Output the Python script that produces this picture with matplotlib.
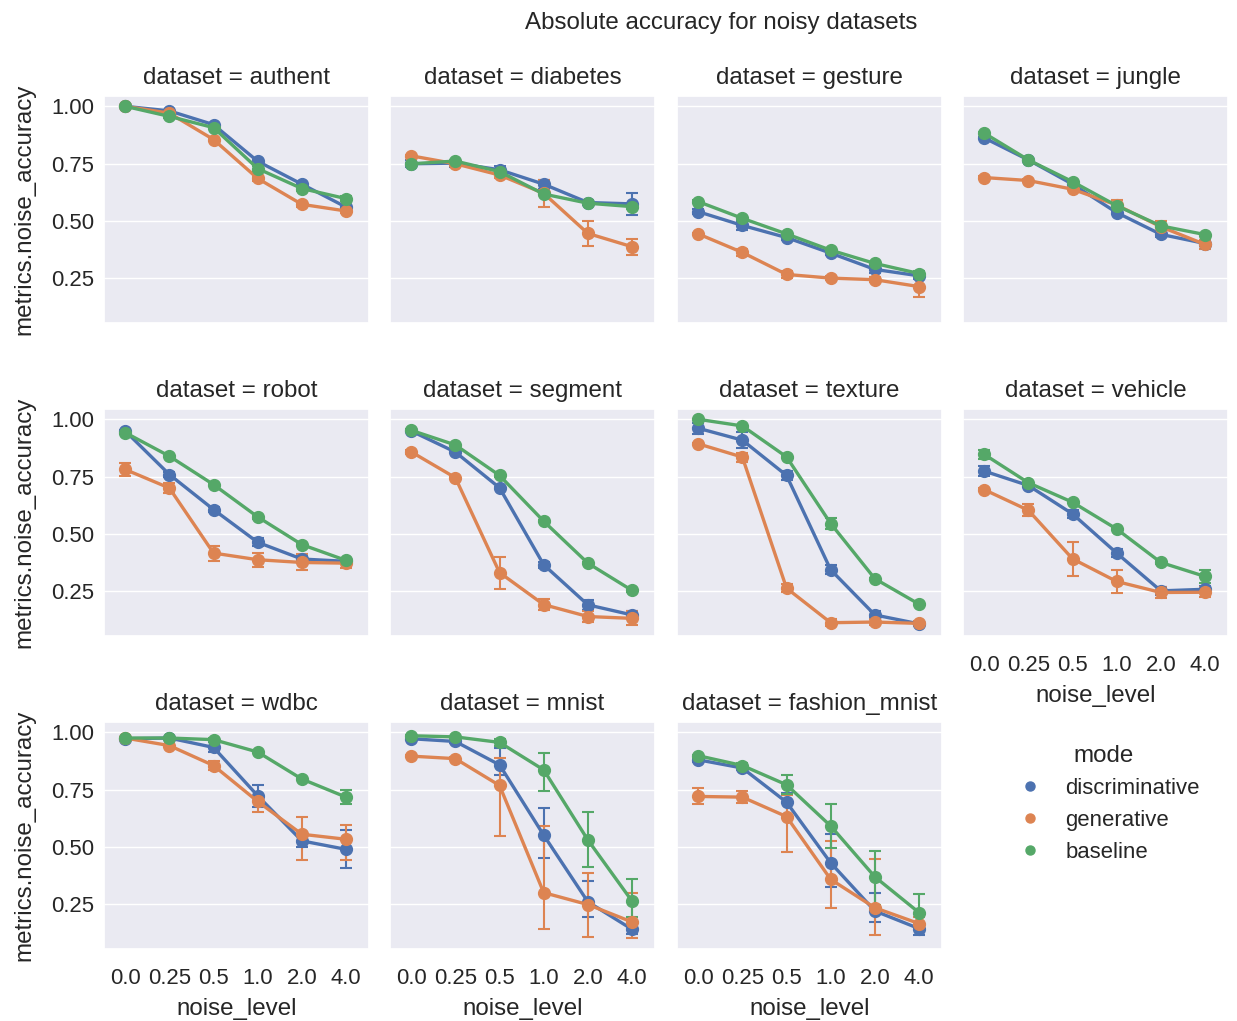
import numpy as np
import matplotlib
matplotlib.use("Agg")
import matplotlib.pyplot as plt
import seaborn as sns

sns.set_theme(style="darkgrid", font_scale=1.45)
plt.rcParams['font.family'] = ['Liberation Sans', 'DejaVu Sans']

noise_levels = ["0.0", "0.25", "0.5", "1.0", "2.0", "4.0"]
modes = ["discriminative", "generative", "baseline"]
datasets = ["authent", "diabetes", "gesture", "jungle", "robot", "segment",
            "texture", "vehicle", "wdbc", "mnist", "fashion_mnist"]

# mean accuracy per dataset, per mode (discriminative, generative, baseline)
# errors: one list = symmetric, [lower, upper] = asymmetric
authent_mean = [[1.00, 0.98, 0.92, 0.76, 0.66, 0.56],
                [1.00, 0.97, 0.855, 0.685, 0.572, 0.543],
                [1.00, 0.956, 0.907, 0.728, 0.641, 0.597]]
authent_err = [[0.0, 0.005, 0.005, 0.01, 0.01, 0.01],
               [0.0, 0.005, 0.005, 0.01, 0.01, 0.01],
               [0.0, 0.005, 0.005, 0.01, 0.01, 0.01]]

diabetes_mean = [[0.749, 0.752, 0.723, 0.66, 0.58, 0.574],
                 [0.784, 0.749, 0.70, 0.62, 0.445, 0.387],
                 [0.749, 0.761, 0.715, 0.617, 0.577, 0.562]]
diabetes_err = [[0.015, 0.015, 0.015, 0.02, 0.01, 0.047],
                [0.005, 0.01, 0.015, 0.06, 0.056, 0.035],
                [0.005, 0.005, 0.005, 0.005, 0.005, 0.01]]

gesture_mean = [[0.54, 0.48, 0.427, 0.359, 0.288, 0.26],
                [0.443, 0.362, 0.266, 0.25, 0.243, 0.213],
                [0.584, 0.511, 0.443, 0.372, 0.314, 0.27]]
gesture_err = [[0.01, 0.02, 0.01, 0.01, 0.015, 0.015],
               [0.005, 0.015, 0.017, 0.01, 0.01, 0.045],
               [0.005, 0.005, 0.005, 0.005, 0.005, 0.01]]

jungle_mean = [[0.862, 0.766, 0.66, 0.536, 0.441, 0.401],
               [0.689, 0.676, 0.638, 0.569, 0.474, 0.397],
               [0.883, 0.766, 0.671, 0.566, 0.478, 0.44]]
jungle_err = [[0.005, 0.005, 0.005, 0.005, 0.01, 0.01],
              [0.005, 0.005, 0.005, 0.022, 0.027, 0.02],
              [0.005, 0.005, 0.005, 0.005, 0.005, 0.005]]

robot_mean = [[0.949, 0.759, 0.606, 0.463, 0.39, 0.38],
              [0.781, 0.70, 0.416, 0.387, 0.375, 0.372],
              [0.942, 0.839, 0.715, 0.574, 0.453, 0.384]]
robot_err = [[0.005, 0.01, 0.01, 0.018, 0.015, 0.01],
             [0.029, 0.023, 0.033, 0.031, 0.035, 0.023],
             [0.005, 0.005, 0.005, 0.01, 0.005, 0.005]]

segment_mean = [[0.949, 0.857, 0.701, 0.365, 0.19, 0.146],
                [0.858, 0.745, 0.331, 0.191, 0.139, 0.131],
                [0.952, 0.888, 0.755, 0.555, 0.372, 0.253]]
segment_err = [[0.005, 0.005, 0.005, 0.012, 0.022, 0.017],
               [0.01, 0.005, 0.07, 0.025, 0.025, 0.03],
               [0.005, 0.005, 0.005, 0.005, 0.005, 0.005]]

texture_mean = [[0.961, 0.909, 0.755, 0.343, 0.146, 0.107],
                [0.893, 0.835, 0.263, 0.112, 0.115, 0.109],
                [1.00, 0.971, 0.836, 0.545, 0.304, 0.193]]
texture_err = [[0.025, 0.035, 0.018, 0.02, 0.015, 0.01],
               [0.005, 0.02, 0.018, 0.015, 0.015, 0.012],
               [0.003, 0.005, 0.005, 0.023, 0.005, 0.005]]

vehicle_mean = [[0.774, 0.711, 0.587, 0.416, 0.251, 0.258],
                [0.693, 0.603, 0.391, 0.292, 0.244, 0.245],
                [0.847, 0.723, 0.638, 0.521, 0.375, 0.314]]
vehicle_err = [[0.02, 0.005, 0.018, 0.018, 0.018, 0.015],
               [0.005, 0.027, 0.074, 0.052, 0.023, 0.022],
               [0.02, 0.005, 0.005, 0.005, 0.005, 0.028]]

wdbc_mean = [[0.972, 0.975, 0.934, 0.723, 0.526, 0.489],
             [0.975, 0.942, 0.855, 0.698, 0.555, 0.533],
             [0.975, 0.975, 0.968, 0.914, 0.796, 0.717]]
wdbc_err = [[[0.005, 0.005, 0.02, 0.047, 0.025, 0.08],
             [0.005, 0.005, 0.025, 0.045, 0.03, 0.085]],
            [[0.005, 0.005, 0.02, 0.047, 0.113, 0.091],
             [0.005, 0.005, 0.02, 0.022, 0.074, 0.063]],
            [0.005, 0.005, 0.005, 0.005, 0.005, 0.03]]

mnist_mean = [[0.972, 0.96, 0.858, 0.551, 0.26, 0.14],
              [0.896, 0.885, 0.768, 0.30, 0.248, 0.172],
              [0.985, 0.98, 0.956, 0.836, 0.53, 0.263]]
mnist_err = [[[0.005, 0.005, 0.045, 0.10, 0.065, 0.02],
              [0.005, 0.005, 0.072, 0.12, 0.09, 0.02]],
             [[0.005, 0.008, 0.221, 0.16, 0.143, 0.07],
              [0.005, 0.008, 0.122, 0.29, 0.139, 0.128]],
             [[0.005, 0.005, 0.015, 0.094, 0.12, 0.069],
              [0.005, 0.005, 0.015, 0.074, 0.12, 0.097]]]

fashion_mnist_mean = [[0.88, 0.844, 0.695, 0.43, 0.22, 0.143],
                      [0.72, 0.717, 0.632, 0.358, 0.234, 0.165],
                      [0.898, 0.855, 0.771, 0.591, 0.369, 0.213]]
fashion_mnist_err = [[[0.01, 0.01, 0.071, 0.104, 0.05, 0.03],
                      [0.01, 0.01, 0.039, 0.125, 0.08, 0.03]],
                     [[0.035, 0.026, 0.153, 0.124, 0.117, 0.03],
                      [0.035, 0.026, 0.095, 0.169, 0.211, 0.03]],
                     [[0.005, 0.01, 0.041, 0.097, 0.121, 0.066],
                      [0.005, 0.01, 0.044, 0.097, 0.113, 0.079]]]

means = [authent_mean, diabetes_mean, gesture_mean, jungle_mean, robot_mean,
         segment_mean, texture_mean, vehicle_mean, wdbc_mean, mnist_mean,
         fashion_mnist_mean]
errs = [authent_err, diabetes_err, gesture_err, jungle_err, robot_err,
        segment_err, texture_err, vehicle_err, wdbc_err, mnist_err,
        fashion_mnist_err]

colors = sns.color_palette("deep", 3)

W, H = 1237, 1021
fig = plt.figure(figsize=(W / 100, H / 100), dpi=100)

col_left = [104, 390, 677, 963]
row_top = [96, 409, 722]
aw, ah = 265, 227

x = np.arange(len(noise_levels))
for i, name in enumerate(datasets):
    r, c = divmod(i, 4)
    ax = fig.add_axes([col_left[c] / W, 1 - (row_top[r] + ah) / H, aw / W, ah / H])
    for k, mode in enumerate(modes):
        ax.errorbar(x, means[i][k], yerr=np.array(errs[i][k]), color=colors[k],
                    marker="o", markersize=8.5, linewidth=2.4, elinewidth=1.5,
                    capsize=4.5, capthick=1.5, label=mode)
    ax.set_ylim(0.054, 1.045)
    ax.set_xlim(-0.48, 5.52)
    ax.set_yticks([0.25, 0.5, 0.75, 1.0])
    ax.set_xticks(x)
    ax.grid(axis="x", visible=False)
    ax.set_title("dataset = " + name, pad=8.5)
    if c == 0:
        ax.set_yticklabels(["0.25", "0.50", "0.75", "1.00"])
        ax.set_ylabel("metrics.noise_accuracy", labelpad=11)
    else:
        ax.set_yticklabels([])
    if r == 2 or (r == 1 and c == 3):
        ax.set_xticklabels(noise_levels)
        ax.set_xlabel("noise_level", labelpad=6)
    else:
        ax.set_xticklabels([])
    ax.tick_params(axis="x", length=0, pad=14)
    ax.tick_params(axis="y", length=0, pad=7)

handles = [plt.Line2D([], [], color=colors[k], marker="o", linestyle="",
                      markersize=6.5) for k in range(3)]
fig.legend(handles, modes, title="mode", loc="center",
           bbox_to_anchor=(1104 / W, 1 - 804 / H), frameon=False,
           handletextpad=0.6, labelspacing=0.5)

fig.suptitle("Absolute accuracy for noisy datasets", x=721 / W, y=1 - 23 / H,
             va="center", fontsize=17.4)

fig.savefig("out.png", dpi=100)
